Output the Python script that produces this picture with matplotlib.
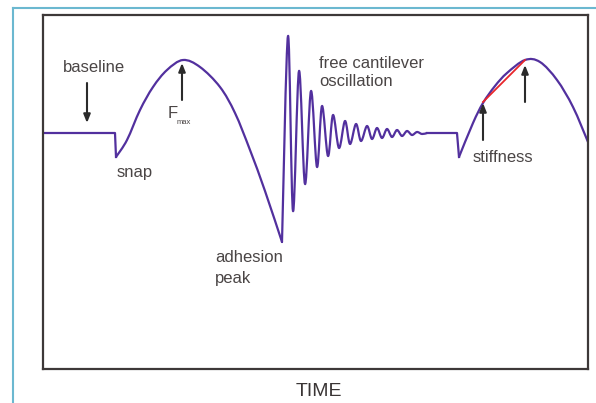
import matplotlib
matplotlib.use('Agg')
import matplotlib.pyplot as plt
from matplotlib.lines import Line2D
from matplotlib.path import Path
from matplotlib.patches import PathPatch

plt.rcParams['font.family'] = ['Liberation Sans', 'DejaVu Sans']

# force curve (time vs force, baseline = 0),
# split in pieces where the trace has sharp corners
approach_t = [0, 72, 73]
approach_f = [0, 0, -24]

arch_t = [73, 84, 97, 110, 124, 140, 157, 177, 192, 207, 222, 239]
arch_f = [-24, -7, 23, 46, 63, 73, 66, 46, 20, -17, -58, -109]

osc_t = [239, 245, 250, 256, 262, 268, 274, 279, 285, 290, 296, 302, 307,
         313, 318, 324, 329, 334, 339, 344, 349, 354, 359, 364, 369, 374,
         379, 384]
osc_f = [-109, 97, -78, 62, -51, 42, -34, 27, -23, 18, -15, 12, -11, 9, -8,
         7, -6, 5, -5, 4, -4, 3, -3, 2, -2, 1, -1, 0]

flat_t = [384, 414, 416]
flat_f = [0, 0, -24]

arch2_t = [416, 430, 440, 452, 464, 482, 497, 514, 530, 545]
arch2_f = [-24, 10, 30, 47, 60, 73, 71, 53, 26, -9]

# stiffness slope (red line)
slope_t = [440, 482]
slope_f = [31, 73]

# arrows: (x, y_from, y_to)
arrows = [(44, 50, 10), (139, 33, 70), (440, -7, 30), (482, 31, 68)]

labels = [
    ('baseline', 20, 65),
    ('snap', 74, -39),
    ('adhesion', 172, -124),
    ('peak', 172, -146),
    ('free cantilever', 276, 69),
    ('oscillation', 276, 51),
    ('stiffness', 430, -24),
]

purple = '#52309e'


def smooth_path(xs, ys):
    # Catmull-Rom through the read points, drawn as cubic Bezier pieces
    pts = list(zip(xs, ys))
    verts = [pts[0]]
    codes = [Path.MOVETO]
    n = len(pts)
    for i in range(n - 1):
        p0 = pts[i - 1] if i > 0 else pts[i]
        p1 = pts[i]
        p2 = pts[i + 1]
        p3 = pts[i + 2] if i + 2 < n else pts[i + 1]
        c1 = (p1[0] + (p2[0] - p0[0]) / 6, p1[1] + (p2[1] - p0[1]) / 6)
        c2 = (p2[0] - (p3[0] - p1[0]) / 6, p2[1] - (p3[1] - p1[1]) / 6)
        verts += [c1, c2, p2]
        codes += [Path.CURVE4] * 3
    return Path(verts, codes)


fig = plt.figure(figsize=(5.96, 4.03), dpi=100)
ax = fig.add_axes([43 / 596, 34 / 403, 545 / 596, 354 / 403])

ax.plot(approach_t, approach_f, color=purple, lw=1.6, solid_joinstyle='round')
ax.plot(flat_t, flat_f, color=purple, lw=1.6, solid_joinstyle='round')
for xs, ys in [(arch_t, arch_f), (osc_t, osc_f), (arch2_t, arch2_f)]:
    ax.add_patch(PathPatch(smooth_path(xs, ys), fill=False, edgecolor=purple,
                           lw=1.6, joinstyle='round', capstyle='round'))
ax.plot(slope_t, slope_f, color='#e8262b', lw=1.3)

for x, y0, y1 in arrows:
    ax.annotate('', xy=(x, y1), xytext=(x, y0),
                arrowprops=dict(arrowstyle='-|>,head_length=0.5,head_width=0.2',
                                color='#2b2b2b', lw=1.5, shrinkA=0, shrinkB=0))

txt = '#4a4545'
for s, x, y in labels:
    ax.text(x, y, s, fontsize=12, color=txt, ha='left', va='center')
ax.text(125, 20, 'F', fontsize=12, color=txt, ha='left', va='center')
ax.text(134, 11, 'max', fontsize=5.5, color=txt, ha='left', va='center')

ax.set_xlim(0, 545)
ax.set_ylim(-236, 118)
ax.set_xticks([])
ax.set_yticks([])
for sp in ax.spines.values():
    sp.set_color('#3d3838')
    sp.set_linewidth(1.6)

fig.text(319 / 596, 1 - 392 / 403, 'TIME', fontsize=14, color='#3a3535',
         ha='center', va='center')

# light blue page frame
fig.add_artist(Line2D([13 / 596, 13 / 596], [0, 1 - 8 / 403],
                      transform=fig.transFigure, color='#6bb8d0', lw=1.5))
fig.add_artist(Line2D([13 / 596, 1], [1 - 8 / 403, 1 - 8 / 403],
                      transform=fig.transFigure, color='#6bb8d0', lw=1.5))

fig.savefig('out.png', dpi=100)
